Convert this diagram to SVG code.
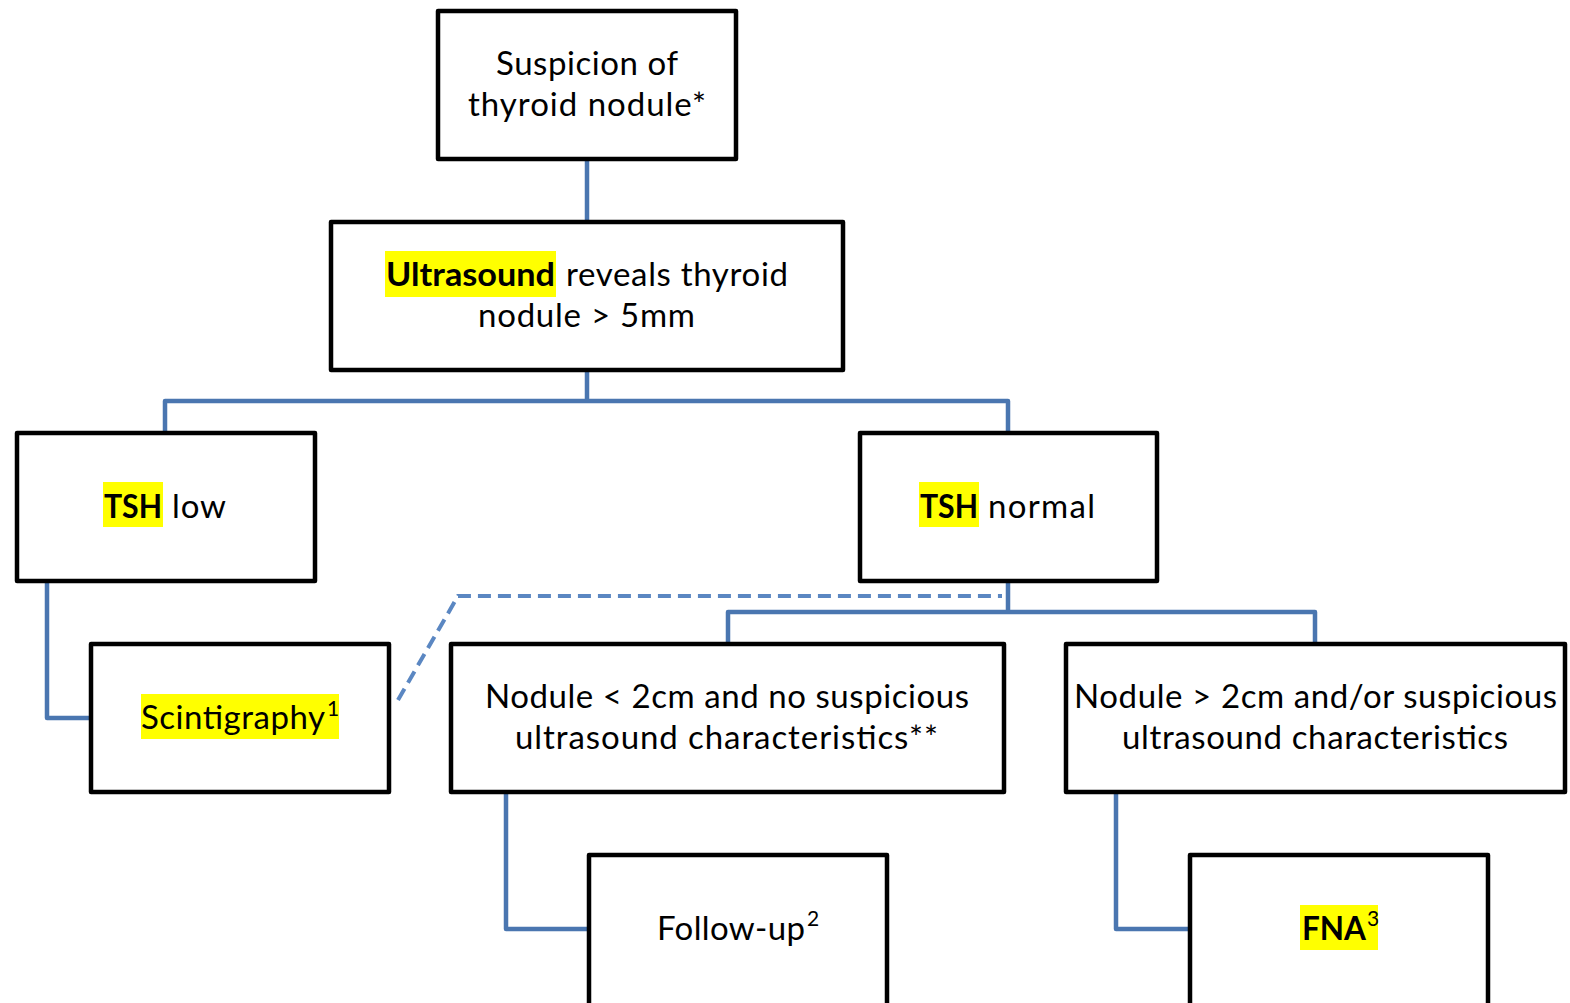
<svg xmlns="http://www.w3.org/2000/svg" width="1570" height="1003" viewBox="0 0 1570 1003">
<style>
.box{fill:#fff;stroke:#000;stroke-width:4.5;stroke-linejoin:round}
.c{fill:none;stroke:#4a76b0;stroke-width:4.5;stroke-linejoin:round}
.d{fill:none;stroke:#5b87c2;stroke-width:4;stroke-dasharray:13 7}
.t{font-family:Lato,"Open Sans","Liberation Sans",sans-serif;font-size:33px;fill:#000}
.b{font-weight:bold}
.hl{fill:#ffff00}
.sup{font-size:21px}
</style>
<rect width="1570" height="1003" fill="#fff"/>
<g id="connectors">
<path class="c" d="M587,159 V221"/>
<path class="c" d="M587,371 V401 M165,432 V401 H1008 V432"/>
<path class="c" d="M47,581 V718 H91"/>
<path class="c" d="M1008,581 V612 M728,643 V612 H1315 V643"/>
<path class="c" d="M506,793 V929 H589"/>
<path class="c" d="M1116,793 V929 H1190"/>
<path class="d" d="M398,700 L458,596 H1002"/>
</g>
<g id="n1">
<rect class="box" x="438" y="11" width="298" height="148"/>
<text class="t" x="587" y="75" text-anchor="middle" textLength="182">Suspicion of</text>
<text class="t" x="587" y="116" text-anchor="middle" textLength="238">thyroid nodule*</text>
</g>
<g id="n2">
<rect class="box" x="331" y="222" width="512" height="148"/>
<rect class="hl" x="385" y="251" width="171" height="46"/>
<text class="t b" x="386" y="286" textLength="169" lengthAdjust="spacingAndGlyphs">Ultrasound</text>
<text class="t" x="566" y="286" textLength="222">reveals thyroid</text>
<text class="t" x="478" y="327" textLength="217">nodule &gt; 5mm</text>
</g>
<g id="n3">
<rect class="box" x="17" y="433" width="298" height="148"/>
<rect class="hl" x="103" y="482" width="60" height="45"/>
<text class="t b" x="104" y="518" textLength="58" lengthAdjust="spacingAndGlyphs">TSH</text>
<text class="t" x="172" y="518" textLength="54">low</text>
</g>
<g id="n4">
<rect class="box" x="860" y="433" width="297" height="148"/>
<rect class="hl" x="919" y="482" width="60" height="45"/>
<text class="t b" x="920" y="518" textLength="58" lengthAdjust="spacingAndGlyphs">TSH</text>
<text class="t" x="988" y="518" textLength="107">normal</text>
</g>
<g id="n5">
<rect class="box" x="91" y="644" width="298" height="148"/>
<rect class="hl" x="141" y="694" width="198" height="45"/>
<text class="t" x="141" y="729" textLength="184">Scintigraphy</text>
<text class="t sup" x="327" y="716">1</text>
</g>
<g id="n6">
<rect class="box" x="451" y="644" width="553" height="148"/>
<text class="t" x="485" y="708" textLength="484">Nodule &lt; 2cm and no suspicious</text>
<text class="t" x="515" y="749" textLength="423">ultrasound characteristics**</text>
</g>
<g id="n7">
<rect class="box" x="1066" y="644" width="499" height="148"/>
<text class="t" x="1074" y="708" textLength="483">Nodule &gt; 2cm and/or suspicious</text>
<text class="t" x="1122" y="749" textLength="386">ultrasound characteristics</text>
</g>
<g id="n8">
<rect class="box" x="589" y="855" width="298" height="170"/>
<text class="t" x="657" y="940" textLength="148">Follow-up</text>
<text class="t sup" x="807" y="926">2</text>
</g>
<g id="n9">
<rect class="box" x="1190" y="855" width="298" height="170"/>
<rect class="hl" x="1300" y="905" width="78" height="45"/>
<text class="t b" x="1302" y="940" textLength="64" lengthAdjust="spacingAndGlyphs">FNA</text>
<text class="t sup" x="1367" y="926">3</text>
</g>
</svg>
